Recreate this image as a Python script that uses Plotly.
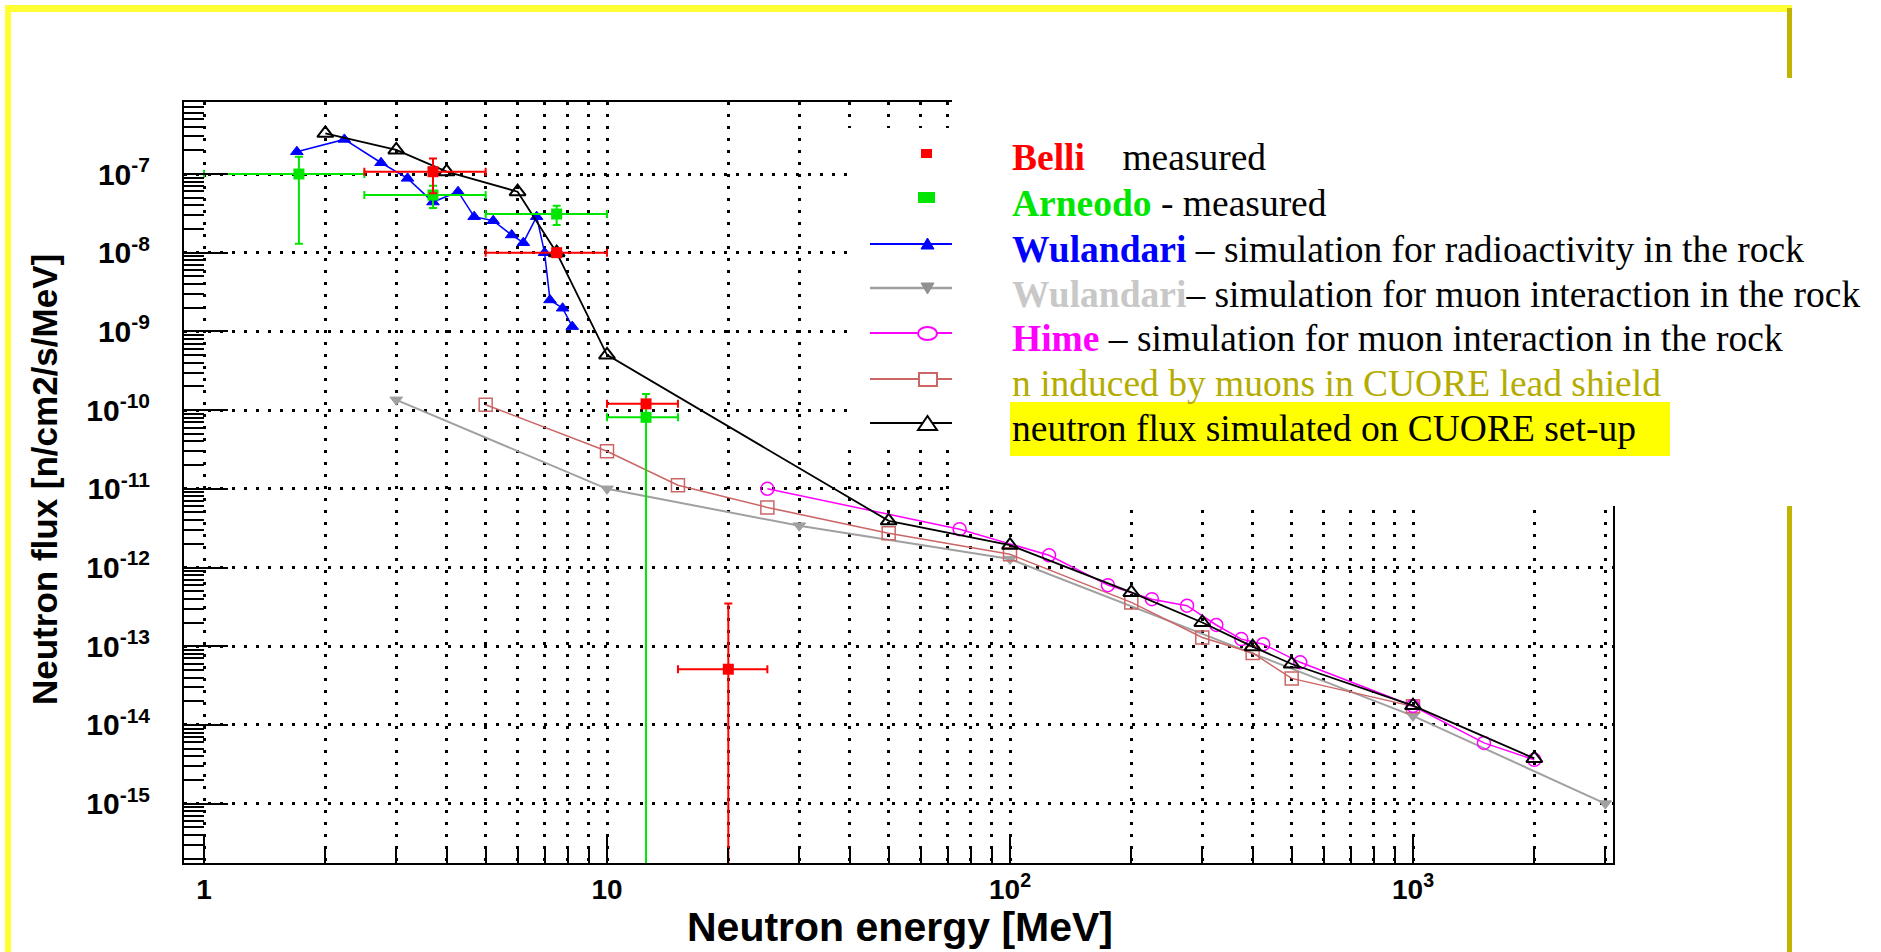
import plotly.graph_objects as go

# ---------------- data (energy in MeV, flux in n/cm2/s/MeV) ----------------
belli_E = [3.7, 7.5, 12.5, 20.0]
belli_F = [1.07e-7, 1.0e-8, 1.2e-10, 5.1e-14]
belli_E_lo = [2.5, 5.0, 10.0, 15.0]
belli_E_hi = [5.0, 10.0, 15.0, 25.0]
belli_F_lo = [5.7e-8, 1.0e-8, 1.2e-10, 0.0]
belli_F_hi = [1.57e-7, 1.0e-8, 1.2e-10, 3.5e-13]

arn_E = [1.72, 3.7, 7.5, 12.5]
arn_F = [1.0e-7, 5.4e-8, 3.1e-8, 8.1e-11]
arn_E_lo = [1.0, 2.5, 5.0, 10.0]
arn_E_hi = [2.5, 5.0, 10.0, 15.0]
arn_F_lo = [1.3e-8, 3.7e-8, 2.25e-8, 0.0]
arn_F_hi = [1.66e-7, 7.1e-8, 3.95e-8, 1.6e-10]

wul_rad_E = [1.70, 2.23, 2.75, 3.2, 3.7, 4.27, 4.68, 5.22, 5.8, 6.2, 6.69, 7.0, 7.22, 7.76, 8.2]
wul_rad_F = [1.92e-7, 2.75e-7, 1.39e-7, 8.8e-8, 4.4e-8, 5.96e-8, 2.87e-8, 2.55e-8,
             1.68e-8, 1.34e-8, 2.87e-8, 1.0e-8, 2.51e-9, 1.97e-9, 1.15e-9]

wul_mu_E = [3, 10, 30, 100, 1000, 3000]
wul_mu_F = [1.35e-10, 1.0e-11, 3.4e-12, 1.28e-12, 1.3e-14, 1.0e-15]

hime_E = [25, 75, 125, 175, 225, 275, 325, 375, 425, 525, 1000, 1500, 2000]
hime_F = [1.0e-11, 3.07e-12, 1.43e-12, 5.97e-13, 3.96e-13, 3.27e-13, 1.86e-13,
          1.23e-13, 1.06e-13, 6.24e-14, 1.74e-14, 5.9e-15, 3.6e-15]

lead_E = [5, 10, 15, 25, 50, 100, 200, 300, 400, 500, 1000]
lead_F = [1.17e-10, 3.0e-11, 1.11e-11, 5.8e-12, 2.73e-12, 1.47e-12, 3.6e-13,
          1.29e-13, 8.2e-14, 3.9e-14, 1.72e-14]

cuore_E = [2, 3, 4, 6, 7.5, 10, 50, 100, 200, 300, 400, 500, 1000, 2000]
cuore_F = [3.29e-7, 2.02e-7, 1.07e-7, 5.96e-8, 1.0e-8, 5.03e-10, 3.92e-12, 1.92e-12,
           4.82e-13, 2.0e-13, 9.87e-14, 5.94e-14, 1.76e-14, 3.75e-15]

x_decades = [1, 10, 100, 1000]
x_labels = ["1", "10", "10<sup>2</sup>", "10<sup>3</sup>"]
y_exponents = list(range(-15, -6))
y_decades = [10.0 ** p for p in y_exponents]
y_labels = [f"10<sup>{p}</sup>" for p in y_exponents]

# ---------------- page geometry (pixels) ----------------
W, H = 1881, 952
L, R, T, B = 184, 1613, 102, 863


def px(x):
    return (x - L) / (R - L)


def py(y):
    return (B - y) / (B - T)


fig = go.Figure()


def line_trace(xs, ys, color, symbol, size, lw=1.5, mlw=1.5, fill=None):
    fig.add_trace(go.Scatter(
        x=xs, y=ys, mode="lines+markers",
        line=dict(color=color, width=lw),
        marker=dict(symbol=symbol, size=size, color=fill or color,
                    line=dict(color=color, width=mlw)),
        showlegend=False, cliponaxis=True))


line_trace(wul_mu_E, wul_mu_F, "#a0a0a0", "triangle-down", 11, lw=2, mlw=1)
line_trace(lead_E, lead_F, "#cc6666", "square-open", 13)
line_trace(hime_E, hime_F, "#ff00ff", "circle-open", 13)
line_trace(wul_rad_E, wul_rad_F, "#0000ff", "triangle-up", 11, mlw=1)
line_trace(cuore_E, cuore_F, "#000000", "triangle-up-open", 14, lw=1.8, mlw=2)


def measured(xs, ys, xlo, xhi, ylo, yhi, color):
    fig.add_trace(go.Scatter(
        x=xs, y=ys, mode="markers",
        marker=dict(symbol="square", size=11, color=color),
        error_x=dict(type="data", symmetric=False,
                     array=[h - v for h, v in zip(xhi, xs)],
                     arrayminus=[v - l for v, l in zip(xs, xlo)],
                     color=color, thickness=2, width=4),
        error_y=dict(type="data", symmetric=False,
                     array=[h - v for h, v in zip(yhi, ys)],
                     arrayminus=[v - l for v, l in zip(ys, ylo)],
                     color=color, thickness=2, width=4),
        showlegend=False))


measured(arn_E, arn_F, arn_E_lo, arn_E_hi, arn_F_lo, arn_F_hi, "#00e600")
measured(belli_E, belli_F, belli_E_lo, belli_E_hi, belli_F_lo, belli_F_hi, "#ff0000")

minor_x = [k * d for d in [1, 10, 100, 1000] for k in range(2, 10)]
minor_y = [k * d for d in [10.0 ** p for p in range(-16, -6)] for k in range(2, 10)]

grid_dash = "2.5px,9.5px"
y_tick_font = dict(family="Liberation Sans", size=30, color="black", weight="bold")
x_tick_font = dict(family="Liberation Sans", size=28, color="black", weight="bold")

fig.update_xaxes(
    type="log", range=[(L - 204) / 403, (R - 204) / 403],
    tickmode="array", tickvals=x_decades, ticktext=x_labels,
    ticks="inside", ticklen=26, tickwidth=2, tickcolor="black",
    showline=True, linecolor="black", linewidth=2, mirror=True,
    showgrid=True, gridcolor="black", gridwidth=2.5, griddash=grid_dash,
    tickfont=x_tick_font, ticklabelstandoff=0, zeroline=False,
    minor=dict(tickmode="array", tickvals=minor_x, ticks="inside", ticklen=15,
               tickwidth=2, tickcolor="black", showgrid=True, gridcolor="black",
               gridwidth=2.5, griddash=grid_dash),
)
fig.update_yaxes(
    type="log", range=[-7 - (B - 174) / 78.7, -7 + (174 - T) / 78.7],
    tickmode="array", tickvals=y_decades, ticktext=y_labels,
    ticks="inside", ticklen=44, tickwidth=2, tickcolor="black",
    showline=True, linecolor="black", linewidth=2, mirror=True,
    showgrid=True, gridcolor="black", gridwidth=2.5, griddash=grid_dash,
    tickfont=y_tick_font, ticklabelstandoff=26, zeroline=False,
    minor=dict(tickmode="array", tickvals=minor_y, ticks="inside", ticklen=20,
               tickwidth=2, tickcolor="black", showgrid=False),
)

shapes = []


def rect(x0, y0, x1, y1, fill, line_color=None, lw=0):
    shapes.append(dict(type="rect", xref="paper", yref="paper", layer="above",
                       x0=px(x0), x1=px(x1), y0=py(y1), y1=py(y0),
                       fillcolor=fill,
                       line=dict(color=line_color or fill, width=lw)))


def seg(x0, y0, x1, y1, color, lw):
    shapes.append(dict(type="line", xref="paper", yref="paper", layer="above",
                       x0=px(x0), x1=px(x1), y0=py(y0), y1=py(y1),
                       line=dict(color=color, width=lw)))


def path(points, fill, color, lw):
    d = "M " + " L ".join(f"{px(a)},{py(b)}" for a, b in points) + " Z"
    shapes.append(dict(type="path", xref="paper", yref="paper", layer="above",
                       path=d, fillcolor=fill, line=dict(color=color, width=lw)))


# white panels carrying the legend
rect(847, 128, W, 447, "white")
rect(952, 78, W, 506, "white")

# page frame
rect(5, 5, 1792, 12, "#ffff33")
rect(5, 5, 11, H, "#ffff33")
rect(1787, 8, 1792, 78, "#c0b400")
rect(1787, 506, 1792, H, "#c0b400")

# yellow highlight behind the last legend entry
rect(1010, 402, 1670, 456, "#ffff00")

# legend swatches
rect(921, 149, 932, 158, "#ff0000")
rect(918, 192, 935, 203, "#00e600")
seg(870, 244, 952, 244, "#0000ff", 2)
path([(921, 249), (934, 249), (927.5, 238)], "#0000ff", "#0000ff", 1)
seg(870, 288, 952, 288, "#a0a0a0", 2.5)
path([(921, 283), (934, 283), (927.5, 294)], "#909090", "#909090", 1)
seg(870, 333, 952, 333, "#ff00ff", 2)
shapes.append(dict(type="circle", xref="paper", yref="paper", layer="above",
                   x0=px(918), x1=px(937), y0=py(340), y1=py(327),
                   fillcolor="white", line=dict(color="#ff00ff", width=2)))
seg(870, 379, 952, 379, "#cc6666", 2)
rect(919, 373, 937, 386, "white", "#cc6666", 2)
seg(870, 423, 952, 423, "#000000", 2)
path([(918, 430), (937, 430), (927.5, 416)], "white", "#000000", 2)

LEG_FONT = dict(family="Liberation Serif", size=37.5, color="black")
legend_rows = [
    (157, "<b><span style='color:#ff0000'>Belli</span></b>\u00a0\u00a0\u00a0 measured"),
    (203, "<b><span style='color:#00e600'>Arneodo</span></b> - measured"),
    (249, "<b><span style='color:#0000ff'>Wulandari</span></b> \u2013 simulation for radioactivity in the rock"),
    (294, "<b><span style='color:#c8c8c8'>Wulandari</span></b>\u2013 simulation for muon interaction in the rock"),
    (338, "<b><span style='color:#ff00ff'>Hime</span></b> \u2013 simulation for muon interaction in the rock"),
    (384, "<span style='color:#b4ac00'>n induced by muons in CUORE lead shield</span>"),
    (428, "neutron flux simulated on CUORE set-up"),
]
annotations = []
for yc, txt in legend_rows:
    annotations.append(dict(xref="paper", yref="paper", x=px(1010), y=py(yc),
                            xanchor="left", yanchor="middle", text=txt,
                            showarrow=False, font=LEG_FONT))

annotations.append(dict(xref="paper", yref="paper", x=px(900), y=py(927),
                        xanchor="center", yanchor="middle", showarrow=False,
                        text="<b>Neutron energy [MeV]</b>",
                        font=dict(family="Liberation Sans", size=41, color="black")))
annotations.append(dict(xref="paper", yref="paper", x=px(44), y=py(480),
                        xanchor="center", yanchor="middle", showarrow=False,
                        textangle=-90, text="<b>Neutron flux [n/cm2/s/MeV]</b>",
                        font=dict(family="Liberation Sans", size=35, color="black")))

fig.update_layout(
    width=W, height=H,
    margin=dict(l=L, r=W - R, t=T, b=H - B, autoexpand=False),
    paper_bgcolor="white", plot_bgcolor="white",
    shapes=shapes, annotations=annotations, showlegend=False,
)

fig.write_html("out.html")
